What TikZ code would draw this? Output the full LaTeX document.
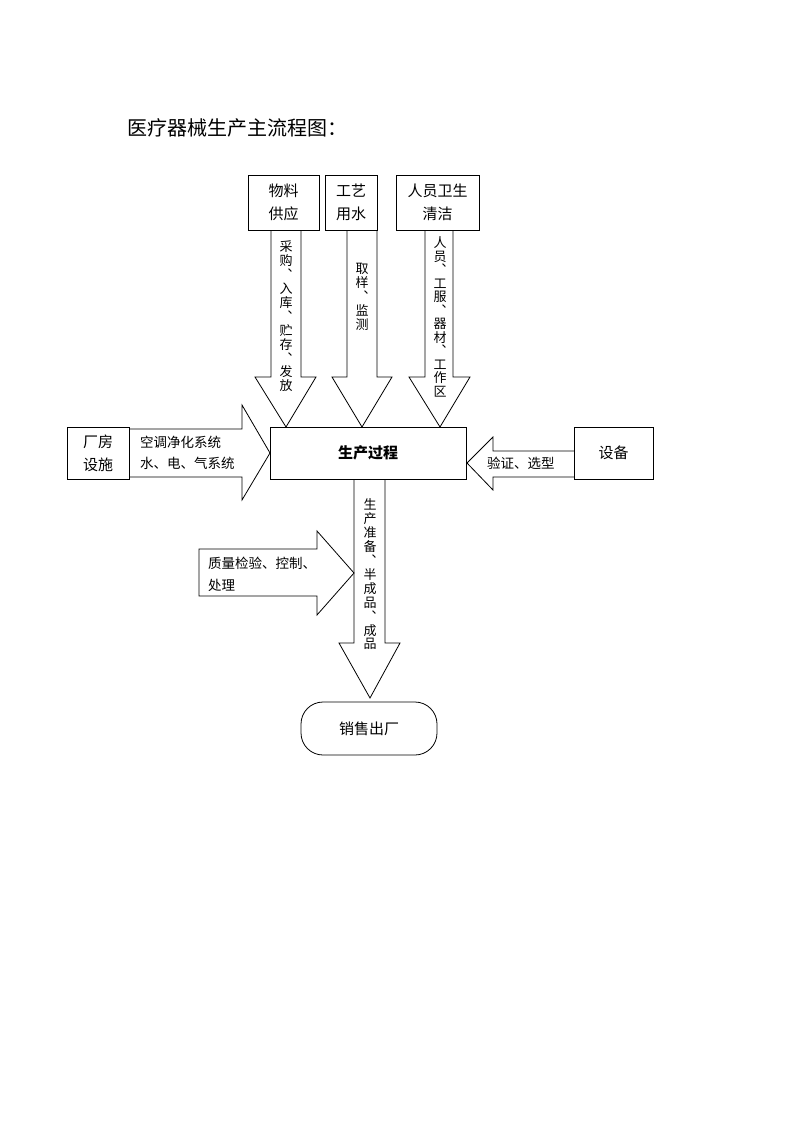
\documentclass[tikz,border=0pt]{standalone}
\usepackage{fontspec}
\newfontfamily\cjk{Noto Sans CJK SC}

\tikzset{
  flowbox/.style={draw, fill=white, line width=0.8pt, align=center, inner sep=0pt,
    font=\cjk\fontsize{15pt}{23pt}\selectfont},
  blockarrow/.style={draw, fill=white, line width=0.8pt, line join=miter},
  vlabel/.style={align=center, inner sep=0pt, font=\cjk\fontsize{13pt}{13.9pt}\selectfont},
  hlabel/.style={align=left, inner sep=0pt, anchor=west, font=\cjk\fontsize{13.5pt}{21pt}\selectfont},
}

\begin{document}
\begin{tikzpicture}[x=1pt, y=-1pt]
  \useasboundingbox (0,0) rectangle (793,1122);

  % title
  \node[anchor=west, inner sep=0pt, font=\cjk\fontsize{20pt}{24pt}\selectfont] (title) at (127,128) {医疗器械生产主流程图：};

  % block arrows (drawn first, boxes sit on top)
  \draw[blockarrow] (271,230) -- (271,377) -- (255,377) -- (286,427) -- (316,377) -- (301,377) -- (301,230);
  \draw[blockarrow] (347,230) -- (347,377) -- (332,377) -- (362,427) -- (392,377) -- (377,377) -- (377,230);
  \draw[blockarrow] (425,230) -- (425,377) -- (409,377) -- (440,427) -- (470,377) -- (453,377) -- (453,230);
  \draw[blockarrow] (129,429) -- (242,429) -- (242,405) -- (270,453) -- (242,500) -- (242,477) -- (129,477);
  \draw[blockarrow] (574,451) -- (493,451) -- (493,437) -- (467,463) -- (493,490) -- (493,477) -- (574,477);
  \draw[blockarrow] (354,479) -- (354,643) -- (339,643) -- (370,698) -- (400,643) -- (385,643) -- (385,479);
  \draw[blockarrow] (199,549) -- (317,549) -- (317,531) -- (354,573) -- (317,615) -- (317,596) -- (199,596) -- cycle;

  % boxes
  \node[flowbox, minimum width=71pt, minimum height=55pt] (wuliao) at (283.5,202.5) {物料\\供应};
  \node[flowbox, minimum width=52pt, minimum height=55pt] (gongyi) at (351,202.5) {工艺\\用水};
  \node[flowbox, minimum width=83pt, minimum height=55pt] (renyuan) at (437.5,202.5) {人员卫生\\清洁};
  \node[flowbox, minimum width=196pt, minimum height=52pt, font=\cjk\bfseries\fontsize{15pt}{18pt}\selectfont] (shengchan) at (368,453) {生产过程};
  \node[flowbox, minimum width=62pt, minimum height=52pt] (changfang) at (98,453) {厂房\\设施};
  \node[flowbox, minimum width=79pt, minimum height=52pt] (shebei) at (613.5,453) {设备};
  \node[flowbox, minimum width=136pt, minimum height=53pt, rounded corners=22pt] (xiaoshou) at (369,728.5) {销售出厂};

  % labels on the arrows
  \node[vlabel] (caigou) at (286,316.5) {采\\购\\︑\\入\\库\\︑\\贮\\存\\︑\\发\\放};
  \node[vlabel] (quyang) at (362,297) {取\\样\\︑\\监\\测};
  \node[vlabel, font=\cjk\fontsize{13pt}{13.5pt}\selectfont] (gongfu) at (440,317) {人\\员\\︑\\工\\服\\︑\\器\\材\\︑\\工\\作\\区};
  \node[vlabel] (zhunbei) at (370,574.5) {生\\产\\准\\备\\︑\\半\\成\\品\\︑\\成\\品};
  \node[hlabel] (kongtiao) at (140,453) {空调净化系统\\水、电、气系统};
  \node[hlabel] (yanzheng) at (487,463) {验证、选型};
  \node[hlabel, font=\cjk\fontsize{13.5pt}{22pt}\selectfont] (zhiliang) at (208,574) {质量检验、控制、\\处理};
\end{tikzpicture}
\end{document}
